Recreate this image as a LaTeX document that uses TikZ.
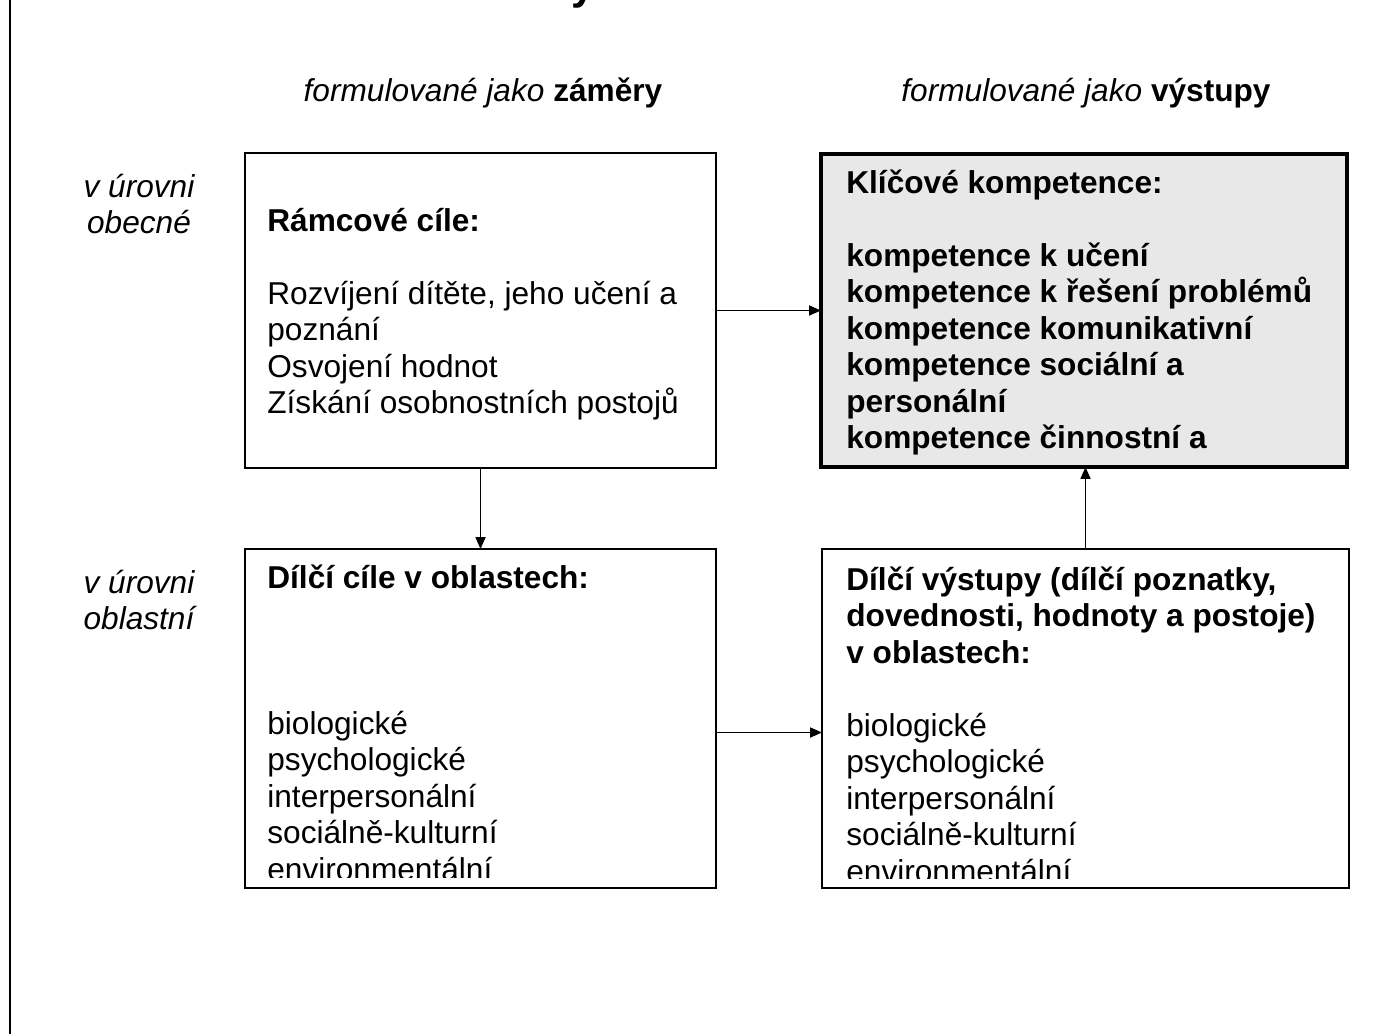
\documentclass[tikz,border=0pt]{standalone}
\usepackage{fontspec}
\setmainfont{Liberation Sans}
\usetikzlibrary{arrows.meta}
\definecolor{klicfill}{RGB}{232,232,232}
\newcommand{\txt}{\fontsize{18}{20.8}\selectfont}

\begin{document}
\begin{tikzpicture}[x=0.02cm,y=-0.02cm,
    box/.style={draw,inner sep=0pt,outer sep=0pt,line width=1pt},
    popis/.style={anchor=base west,inner sep=0pt,font=\txt},
    radek/.style={anchor=base,inner sep=0pt,font=\txt\itshape},
    sipka/.style={-{Triangle[length=0.24cm,width=0.2cm]},line width=1pt}]
  \useasboundingbox (0,0) rectangle (1391,1034);
  %ramecek
  \draw[line width=1.1pt] (10,0) -- (10,1034);
  \node[anchor=base,inner sep=0pt,font=\fontsize{24}{28}\selectfont\bfseries] (nadpis) at (583,0) {y};
  %zahlavi
  \node[radek] (zamery) at (483,101) {formulované jako \textbf{\upshape záměry}};
  \node[radek] (vystupy) at (1086,101) {formulované jako \textbf{\upshape výstupy}};
  \node[radek] (obecna) at (139,197) {\parbox[t]{4cm}{\centering v úrovni\\obecné}};
  \node[radek] (oblastni) at (139,593) {\parbox[t]{4cm}{\centering v úrovni\\oblastní}};
  %boxy
  \node[box,minimum width=9.42cm,minimum height=6.3cm] (ramcove) at (480.5,310.5) {};
  \node[box,line width=2.3pt,fill=klicfill,minimum width=10.52cm,minimum height=6.26cm] (klicove) at (1084,310.5) {};
  \node[box,minimum width=9.42cm,minimum height=6.78cm] (dilcicile) at (480.5,718.5) {};
  \node[box,minimum width=10.54cm,minimum height=6.78cm] (dilcivystupy) at (1085.5,718.5) {};
  %texty
  \node[popis] (ramcovetext) at (267,231) {\parbox[t]{9cm}{\raggedright
    \textbf{Rámcové cíle:}\\[\baselineskip]
    Rozvíjení dítěte, jeho učení a\\
    poznání\\
    Osvojení hodnot\\
    Získání osobnostních postojů}};
  \node[popis] (klicovetext) at (846,193) {\parbox[t]{10cm}{\raggedright\bfseries
    Klíčové kompetence:\\[\baselineskip]
    kompetence k učení\\
    kompetence k řešení problémů\\
    kompetence komunikativní\\
    kompetence sociální a\\
    personální\\
    kompetence činnostní a}};
  \begin{scope}
    \clip (245,549) rectangle (716,877);
    \node[popis] (dilcicíletext) at (267,588) {\parbox[t]{9cm}{\raggedright
      \textbf{Dílčí cíle v oblastech:}\\[3\baselineskip]
      biologické\\
      psychologické\\
      interpersonální\\
      sociálně-kulturní\\
      environmentální}};
  \end{scope}
  \begin{scope}
    \clip (822,549) rectangle (1349,878);
    \node[popis] (dilcivystupytext) at (846,590) {\parbox[t]{10cm}{\raggedright
      \textbf{Dílčí výstupy (dílčí poznatky,}\\
      \textbf{dovednosti, hodnoty a postoje)}\\
      \textbf{v oblastech:}\\[\baselineskip]
      biologické\\
      psychologické\\
      interpersonální\\
      sociálně-kulturní\\
      environmentální}};
  \end{scope}
  %sipky
  \draw[sipka] (ramcove) -- (klicove);
  \draw[sipka] (ramcove) -- (dilcicile);
  \draw[sipka] ([yshift=-0.28cm]dilcicile.east) -- ([yshift=-0.28cm]dilcivystupy.west);
  \draw[sipka] (dilcivystupy.north) -- (dilcivystupy.north |- klicove.south);
\end{tikzpicture}
\end{document}
